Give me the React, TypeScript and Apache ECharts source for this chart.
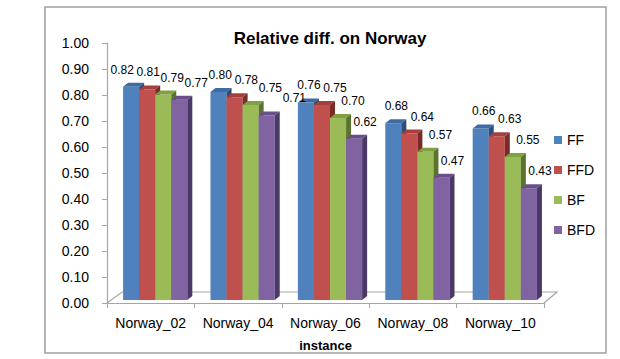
import React, { useEffect, useRef } from "react";
import * as echarts from "echarts";

const categories = ["Norway_02", "Norway_04", "Norway_06", "Norway_08", "Norway_10"];
const seriesNames = ["FF", "FFD", "BF", "BFD"];
const ffValues = [0.82, 0.8, 0.76, 0.68, 0.66];
const ffdValues = [0.81, 0.78, 0.75, 0.64, 0.63];
const bfValues = [0.79, 0.75, 0.7, 0.57, 0.55];
const bfdValues = [0.77, 0.71, 0.62, 0.47, 0.43];
const yTicks = [0, 0.1, 0.2, 0.3, 0.4, 0.5, 0.6, 0.7, 0.8, 0.9, 1.0];

const allValues = [ffValues, ffdValues, bfValues, bfdValues];
const colors = ["#4F81BD", "#C0504D", "#9BBB59", "#8064A2"];
const topColors = ["#3E6BA3", "#A53F3C", "#7FA043", "#684F8A"];
const sideColors = ["#2C4E78", "#7A2B29", "#5A7430", "#4A3866"];
const labelDx = [3, 13, 15, 11];
const FONT = "'Liberation Sans', Arial, sans-serif";

const DEPTH_X = 5;
const DEPTH_Y = 4;
const SHIFT_X = 4.5;
const SHIFT_Y = 3;
const GROUP_RATIO = 0.735;
const LABEL_SEP = 24;
const LABEL_H = 13;

function barGeom(api: any, cat: number, v: number, s: number) {
  const base = api.coord([cat, 0]);
  const top = api.coord([cat, v]);
  const bandW = api.size([1, 0])[0];
  const groupW = bandW * GROUP_RATIO;
  const barW = groupW / 4;
  const x0 = base[0] - groupW / 2 + s * barW + SHIFT_X;
  return { x0, barW, ty: top[1] - SHIFT_Y, by: base[1] - SHIFT_Y };
}

function layoutLabels(api: any) {
  const result: { x: number; y: number; text: string }[][] = [];
  let prevLast: { x: number; y: number } | null = null;
  for (let c = 0; c < categories.length; c++) {
    const xs: number[] = [];
    const ys: number[] = [];
    const texts: string[] = [];
    for (let s = 0; s < 4; s++) {
      const v = allValues[s][c];
      const g = barGeom(api, c, v, s);
      xs.push(g.x0 + g.barW / 2 + labelDx[s]);
      ys.push(g.ty - 17);
      texts.push(v.toFixed(2));
    }
    let push = 0;
    for (let s = 1; s < 4; s++) {
      if (xs[s] - xs[s - 1] < LABEL_SEP && Math.abs(ys[s] - ys[s - 1]) < LABEL_H) {
        push += xs[s - 1] + LABEL_SEP - xs[s];
        xs[s] = xs[s - 1] + LABEL_SEP;
      }
    }
    let back = push / 2;
    if (prevLast && Math.abs(prevLast.y - ys[0]) < LABEL_H) {
      const minX = prevLast.x + LABEL_SEP;
      back = Math.max(0, Math.min(back, xs[0] - minX));
    }
    const row = xs.map((x, s) => ({ x: x - back, y: ys[s], text: texts[s] }));
    result.push(row);
    prevLast = { x: row[3].x, y: row[3].y };
  }
  return result;
}

export default function App() {
  const ref = useRef<HTMLDivElement>(null);
  useEffect(() => {
    if (!ref.current) return;
    const chart = echarts.init(ref.current, null, { renderer: "svg" });

    const makeBarSeries = (s: number) => ({
      type: "custom",
      name: seriesNames[s],
      itemStyle: { color: colors[s] },
      data: allValues[s].map((v, i) => [i, v]),
      z: 3 + s,
      renderItem: (params: any, api: any) => {
        const cat = api.value(0);
        const v = api.value(1);
        const { x0, barW, ty, by } = barGeom(api, cat, v, s);
        return {
          type: "group",
          children: [
            {
              type: "rect",
              shape: { x: x0, y: ty, width: barW, height: by - ty },
              style: { fill: colors[s] },
            },
            {
              type: "polygon",
              shape: {
                points: [
                  [x0, ty],
                  [x0 + barW, ty],
                  [x0 + barW + DEPTH_X, ty - DEPTH_Y],
                  [x0 + DEPTH_X, ty - DEPTH_Y],
                ],
              },
              style: { fill: topColors[s] },
            },
            {
              type: "polygon",
              shape: {
                points: [
                  [x0 + barW, ty],
                  [x0 + barW + DEPTH_X, ty - DEPTH_Y],
                  [x0 + barW + DEPTH_X, by - DEPTH_Y],
                  [x0 + barW, by],
                ],
              },
              style: { fill: sideColors[s] },
            },
          ],
        };
      },
    });

    const labelSeries = {
      type: "custom",
      name: "labels",
      silent: true,
      z: 20,
      dimensions: ["cat", "a", "b", "c", "d"],
      encode: { x: 0, y: 1 },
      data: categories.map((_, i) => [i, ffValues[i], ffdValues[i], bfValues[i], bfdValues[i]]),
      renderItem: (params: any, api: any) => {
        const cat = api.value(0);
        const layout = layoutLabels(api);
        return {
          type: "group",
          children: layout[cat].map((l) => ({
            type: "text",
            style: {
              text: l.text,
              x: l.x,
              y: l.y,
              textAlign: "center",
              textVerticalAlign: "middle",
              verticalAlign: "middle",
              font: `12px ${FONT}`,
              fill: "#000",
            },
          })),
        };
      },
    };

    const floorSeries = {
      type: "custom",
      name: "floor",
      silent: true,
      z: 1,
      data: [[0, 0]],
      renderItem: (params: any) => {
        const cs = params.coordSys;
        const bx = cs.x;
        const by = cs.y + cs.height;
        const w = cs.width;
        return {
          type: "polyline",
          shape: {
            points: [
              [bx, by],
              [bx + 15, by - 11],
              [bx + w + 13, by - 11],
              [bx + w, by],
            ],
          },
          style: { stroke: "#A6A6A6", lineWidth: 1.2, fill: "none" },
        };
      },
    };

    chart.setOption({
      animation: false,
      title: {
        text: "Relative diff. on Norway",
        left: 325,
        top: 25,
        textAlign: "center",
        textStyle: { fontFamily: FONT, fontSize: 17, fontWeight: "bold", color: "#000" },
      },
      legend: {
        orient: "vertical",
        left: 549,
        top: 127,
        data: seriesNames,
        itemWidth: 8,
        itemHeight: 8,
        itemGap: 14,
        icon: "rect",
        textStyle: { fontFamily: FONT, fontSize: 14, color: "#000", lineHeight: 16 },
      },
      grid: { left: 107, right: 76, top: 43, bottom: 56 },
      xAxis: {
        type: "category",
        data: categories,
        name: "instance",
        nameLocation: "middle",
        nameGap: 36,
        nameTextStyle: { fontFamily: FONT, fontSize: 13, fontWeight: "bold", color: "#000" },
        axisLine: { lineStyle: { color: "#A6A6A6", width: 1.2 } },
        axisTick: { show: true, length: 5, interval: 0, lineStyle: { color: "#A6A6A6" } },
        axisLabel: { fontFamily: FONT, fontSize: 14, color: "#000", margin: 13, interval: 0 },
      },
      yAxis: {
        type: "value",
        min: 0,
        max: 1,
        interval: 0.1,
        axisLine: { show: true, lineStyle: { color: "#A6A6A6", width: 1.2 } },
        axisTick: { show: true, length: 5, lineStyle: { color: "#A6A6A6" } },
        splitLine: { show: false },
        axisLabel: {
          fontFamily: FONT,
          fontSize: 14,
          color: "#000",
          margin: 18,
          customValues: yTicks,
          formatter: (v: number) => v.toFixed(2),
        },
      },
      graphic: [
        {
          type: "rect",
          shape: { x: 45, y: 7, width: 561, height: 346 },
          style: { fill: "none", stroke: "#A0A0A0", lineWidth: 1.5 },
          silent: true,
          z: -1,
        },
      ],
      series: [floorSeries, makeBarSeries(0), makeBarSeries(1), makeBarSeries(2), makeBarSeries(3), labelSeries],
    });
    return () => chart.dispose();
  }, []);
  return <div ref={ref} style={{ position: "absolute", left: 0, top: 0, width: 620, height: 359 }} />;
}
